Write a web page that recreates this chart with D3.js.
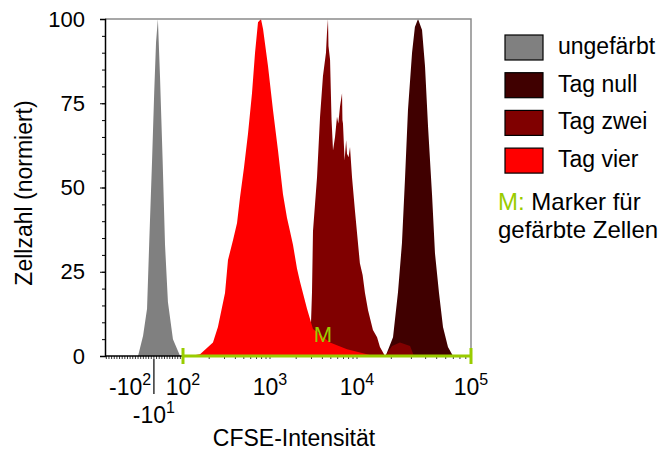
<!DOCTYPE html>
<html>
<head>
<meta charset="utf-8">
<script src="https://cdn.jsdelivr.net/npm/d3@7"></script>
<style>
  body { margin: 0; background: #fff; }
  text { font-family: Arial, "Liberation Sans", sans-serif; fill: #000; }
</style>
</head>
<body>
<script>
const w = 670;
const h = 450;
const plot = {left: 105, right: 471, top: 19, bottom: 356};
const green = "#99cc00";

// histogram data: [CFSE intensity, cell count normalised to 100]
const ungefaerbt = [[-70, 0], [-51, 6], [-36, 14], [-28, 33], [-17, 58], [-9, 78], [-2, 93],
                    [5, 100], [13, 83], [23, 58], [32, 33], [43, 16], [62, 5], [89, 0]];
const tagNull = [[18000, 0], [18300, 1], [20700, 5.6], [22900, 19], [24800, 33.5], [26400, 53],
                 [28000, 73], [30400, 90], [32200, 97.6], [34300, 100], [37200, 96.7],
                 [39500, 86], [42000, 68], [45500, 48], [48300, 30.5], [52400, 18.7],
                 [56800, 8.6], [62800, 2.7], [69500, 0]];
const tagZwei = [[1410, 0], [1500, 2], [2200, 4], [2500, 6], [2700, 5], [2884, 1], [3040, 19],
                 [3120, 37], [3470, 53], [3760, 71], [4060, 83], [4400, 90], [4520, 96],
                 [4640, 100], [4700, 92], [4900, 88], [5100, 70], [5300, 61], [5590, 65],
                 [5890, 71], [6100, 69], [6380, 74], [6730, 78], [6800, 70], [6900, 69],
                 [7200, 58], [7500, 64], [7680, 60], [8000, 59], [8310, 62], [8770, 53],
                 [9480, 43], [10600, 27.5], [11200, 24], [11750, 18.7], [12500, 13.6],
                 [13800, 7.7], [15000, 5.6], [15900, 2.7], [17600, 0], [20300, 3],
                 [23800, 4], [29200, 3], [31600, 0]];
const tagVier = [[120, 0], [157, 0.5], [221, 4], [252, 8.6], [304, 18.7], [329, 28.5],
                 [376, 34.4], [418, 39.5], [452, 47], [503, 56], [559, 66], [621, 78],
                 [673, 90], [728, 99], [788, 100], [832, 97], [949, 86], [1082, 73],
                 [1236, 61], [1410, 48], [1567, 41], [1698, 37], [1837, 33], [2042, 26],
                 [2213, 22], [2663, 14], [3119, 8], [4895, 4], [7680, 2], [12240, 0.5],
                 [14000, 0]];

const seriesNames = ["ungefärbt", "Tag null", "Tag zwei", "Tag vier"];
const seriesColors = ["#808080", "#400000", "#800000", "#ff0000"];
const seriesData = [ungefaerbt, tagNull, tagZwei, tagVier];

const yTicks = [0, 25, 50, 75, 100];
const xTickValues = [-100, 100, 1000, 10000, 100000];
const xTickBases = ["-10", "10", "10", "10", "10"];
const xTickExps = ["2", "2", "3", "4", "5"];
const xExtraTick = -10;          // "-10^1", hung below the axis
const markerRange = [100, 100000];

const font = "23px";
const supFont = "16px";

// biexponential-like display: linear around zero, log above 100
const T = v => v >= 100 ? Math.log10(v) : 2 + (v - 100) / 328;
const xMin = -195;
const xs = d3.scaleLinear()
             .domain([T(xMin), 2, 3, 4, 5])
             .range([plot.left, 183, 270, 357, plot.right]);
const x = v => xs(T(v));
const y = d3.scaleLinear().domain([0, 100]).range([plot.bottom, plot.top]);

const svg = d3.select("body")
              .append("svg")
              .attr("width", w)
              .attr("height", h);

// histograms
const area = d3.area()
               .x(d => x(d[0]))
               .y0(y(0))
               .y1(d => y(d[1]));

svg.append("g")
   .selectAll("path")
   .data(seriesData)
   .enter()
   .append("path")
   .attr("d", area)
   .attr("fill", (d, i) => seriesColors[i]);

// frame: grey top and right edges
svg.append("path")
   .attr("d", `M${plot.left},${plot.top}H${plot.right}V${plot.bottom}`)
   .attr("fill", "none")
   .attr("stroke", "#8a8a8a")
   .attr("stroke-width", 1.5);

// y axis
const yMinor = d3.range(0, 101, 5);
svg.append("g")
   .attr("transform", `translate(${plot.left},0)`)
   .call(d3.axisLeft(y).tickValues(yMinor).tickSize(3).tickFormat(""))
   .call(g => g.select(".domain").remove());
svg.append("g")
   .attr("transform", `translate(${plot.left},0)`)
   .call(d3.axisLeft(y).tickValues(yTicks).tickSize(5).tickPadding(15))
   .call(g => g.select(".domain").attr("stroke-width", 1.5))
   .call(g => g.selectAll("text")
               .style("font-family", "Arial, 'Liberation Sans', sans-serif")
               .style("font-size", "22px"));

svg.append("text")
   .attr("transform", "translate(32,193) rotate(-90)")
   .attr("text-anchor", "middle")
   .style("font-size", font)
   .text("Zellzahl (normiert)");

// x axis: minor ticks in the linear part and in each decade
const xMinor = d3.range(-190, 100, 10)
  .concat(d3.range(2, 5).flatMap(e => d3.range(1, 10).map(k => k * Math.pow(10, e))))
  .concat([100000]);
const xAxisG = svg.append("g").attr("transform", `translate(0,${plot.bottom})`);
xAxisG.selectAll("line.minor")
      .data(xMinor)
      .enter()
      .append("line")
      .attr("x1", d => x(d)).attr("x2", d => x(d))
      .attr("y1", 0).attr("y2", 3)
      .attr("stroke", "#000")
      .attr("stroke-width", 0.8);
xAxisG.append("line")
      .attr("x1", plot.left).attr("x2", plot.right)
      .attr("stroke", "#000")
      .attr("stroke-width", 1.5);

const xLabels = svg.append("g")
   .selectAll("text")
   .data(xTickValues)
   .enter()
   .append("text")
   .attr("x", d => x(d))
   .attr("y", 395)
   .attr("text-anchor", "middle")
   .style("font-size", font);
xLabels.append("tspan").text((d, i) => xTickBases[i]);
xLabels.append("tspan")
       .attr("dy", -10)
       .style("font-size", supFont)
       .text((d, i) => xTickExps[i]);

svg.append("line")
   .attr("x1", x(xExtraTick)).attr("x2", x(xExtraTick))
   .attr("y1", 359).attr("y2", 394)
   .attr("stroke", "#000")
   .attr("stroke-width", 1.2);
const extra = svg.append("text")
   .attr("x", x(xExtraTick))
   .attr("y", 423)
   .attr("text-anchor", "middle")
   .style("font-size", font);
extra.append("tspan").text("-10");
extra.append("tspan").attr("dy", -10).style("font-size", supFont).text("1");

svg.append("text")
   .attr("x", 294)
   .attr("y", 446)
   .attr("text-anchor", "middle")
   .style("font-size", font)
   .text("CFSE-Intensität");

// marker M
const mk = svg.append("g").attr("stroke", green).attr("stroke-width", 3);
mk.append("line")
  .attr("x1", x(markerRange[0])).attr("x2", x(markerRange[1]))
  .attr("y1", plot.bottom).attr("y2", plot.bottom);
mk.selectAll("line.cap")
  .data(markerRange)
  .enter()
  .append("line")
  .attr("x1", d => x(d)).attr("x2", d => x(d))
  .attr("y1", plot.bottom - 8).attr("y2", plot.bottom + 8);
svg.append("text")
   .attr("x", 323)
   .attr("y", 342)
   .attr("text-anchor", "middle")
   .style("font-size", "22px")
   .style("fill", green)
   .text("M");

// legend
const legend = svg.append("g").attr("transform", "translate(505,35)");
const rows = legend.selectAll("g")
   .data(seriesNames)
   .enter()
   .append("g")
   .attr("transform", (d, i) => `translate(0,${i * 37.7})`);
rows.append("rect")
    .attr("width", 38)
    .attr("height", 25)
    .attr("fill", (d, i) => seriesColors[i])
    .attr("stroke", "#000")
    .attr("stroke-width", 1.2);
rows.append("text")
    .attr("x", 53)
    .attr("y", 19)
    .style("font-size", font)
    .text(d => d);

const mText = legend.append("text")
   .attr("x", -7)
   .attr("y", 175)
   .style("font-size", "24px");
mText.append("tspan").style("fill", green).text("M:");
mText.append("tspan").text(" Marker für");
legend.append("text")
   .attr("x", -7)
   .attr("y", 203)
   .style("font-size", "24px")
   .text("gefärbte Zellen");
</script>
</body>
</html>
